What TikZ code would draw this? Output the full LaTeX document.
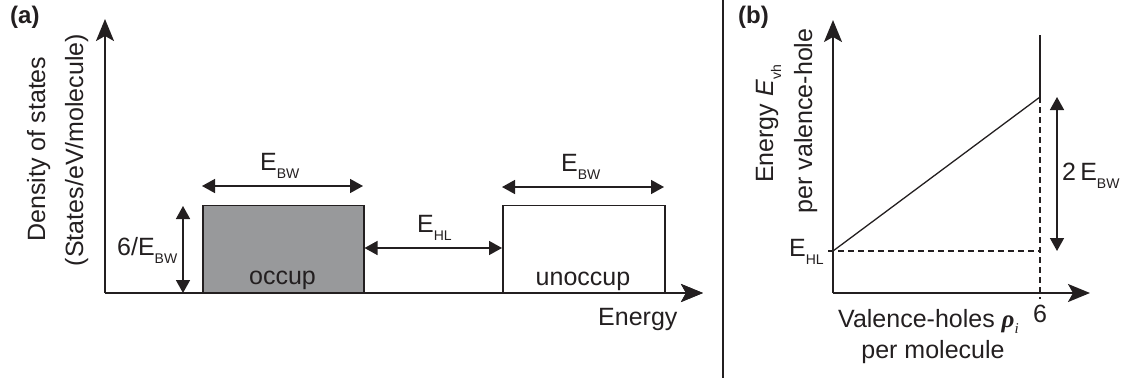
\documentclass[tikz,border=0pt]{standalone}
\usepackage{fontspec}
\setmainfont{Liberation Sans}
\newfontfamily\grk{Liberation Serif}
\usetikzlibrary{arrows.meta}
\definecolor{occgray}{HTML}{98999B}
\definecolor{ink}{HTML}{231F20}
\newcommand{\subt}[1]{\raisebox{-8pt}{\fontsize{14}{14}\selectfont #1}}
\begin{document}
\begin{tikzpicture}[x=1pt,y=-1pt,
  every node/.style={font=\fontsize{25}{30}\selectfont, inner sep=0pt, text=ink},
  axisline/.style={draw=ink, line width=2pt, -{Stealth[length=22pt,width=18pt,inset=5pt]}},
  dimarrow/.style={draw=ink, line width=1.5pt, {Triangle[length=13pt,width=14pt]}-{Triangle[length=13pt,width=14pt]}},
  boxline/.style={draw=ink, line width=1.5pt},
  thinline/.style={draw=ink, line width=1.3pt},
  dashline/.style={draw=ink, line width=1.3pt, dash pattern=on 6pt off 4pt},
  panel/.style={font=\fontsize{24}{28}\selectfont\bfseries, anchor=base west}
]
\useasboundingbox (0,0) rectangle (1132,383);

% ---------- panel (a) ----------
\node[panel] (la) at (10,23) {(a)};
\coordinate (aO) at (105,293);
\coordinate (aY) at (105,19);
\coordinate (aX) at (703,293);
\draw[axisline] (aO) -- (aY);
\draw[axisline] (aO) -- (aX);

\node[boxline, fill=occgray, minimum width=161pt, minimum height=87pt, anchor=south west] (occ) at (202,293) {};
\node[boxline, fill=white, minimum width=162pt, minimum height=87pt, anchor=south west] (unocc) at (502,293) {};
\draw[axisline] (aO) -- (aX);

\node[anchor=base] (occt) at (282.5,284) {occup};
\node[anchor=base] (unocct) at (583,285) {unoccup};

\coordinate (bw1a) at (202,186);
\coordinate (bw1b) at (363,186);
\draw[dimarrow] (bw1a) -- (bw1b);
\node[anchor=base west] (ebw1) at (260,170) {E\subt{BW}};

\coordinate (bw2a) at (502,187);
\coordinate (bw2b) at (664,187);
\draw[dimarrow] (bw2a) -- (bw2b);
\node[anchor=base west] (ebw2) at (561,171) {E\subt{BW}};

\coordinate (hla) at (occ.east |- 0,248);
\coordinate (hlb) at (unocc.west |- 0,248);
\draw[dimarrow] (hla) -- (hlb);
\node[anchor=base west] (ehl) at (417,232) {E\subt{HL}};

\coordinate (hta) at (183,206);
\coordinate (htb) at (183,293);
\draw[dimarrow] (hta) -- (htb);
\node[anchor=base west] (six) at (117,255) {6/E\subt{BW}};

\node[anchor=base west] (energy) at (598,325) {Energy};
\node[anchor=base, rotate=90] (dos1) at (45,149) {Density of states};
\node[anchor=base, rotate=90] (dos2) at (83,150) {(States/eV/molecule)};

% divider
\coordinate (d1) at (723,0);
\coordinate (d2) at (723,378);
\draw[draw=ink, line width=2pt] (d1) -- (d2);

% ---------- panel (b) ----------
\node[panel] (lb) at (738,23) {(b)};
\coordinate (bO) at (833,293);
\coordinate (bY) at (833,20);
\coordinate (bX) at (1090,293);
\draw[axisline] (bO) -- (bY);
\draw[axisline] (bO) -- (bX);

\coordinate (hl) at (833,251);
\coordinate (hlL) at (828,251);
\coordinate (top) at (1040,97);
\coordinate (vtop) at (1040,35);
\coordinate (vbot) at (1040,299);
\coordinate (hlR) at (1040,251);
\draw[thinline] (hl) -- (top);
\draw[thinline] (top) -- (vtop);
\draw[dashline] (top) -- (vbot);
\draw[dashline] (hlL) -- (hlR);

\coordinate (b2a) at (1057,97);
\coordinate (b2b) at (1057,251);
\draw[dimarrow] (b2a) -- (b2b);
\node[anchor=base west] (twobw) at (1062,180) {2\,E\subt{BW}};
\node[anchor=base west] (ehlb) at (789,256) {E\subt{HL}};
\node[anchor=base] (sixb) at (1040,322) {6};

\node[anchor=base west] (vh1) at (838,327) {Valence-holes {\grk\bfseries\itshape ρ}\raisebox{-6pt}{\grk\itshape\fontsize{15}{15}\selectfont i}};
\node[anchor=base] (vh2) at (933,358) {per molecule};

\node[anchor=base, rotate=90] (ev1) at (773,124) {Energy {\itshape E}\subt{vh}};
\node[anchor=base, rotate=90] (ev2) at (812,121) {per valence-hole};
\end{tikzpicture}
\end{document}
